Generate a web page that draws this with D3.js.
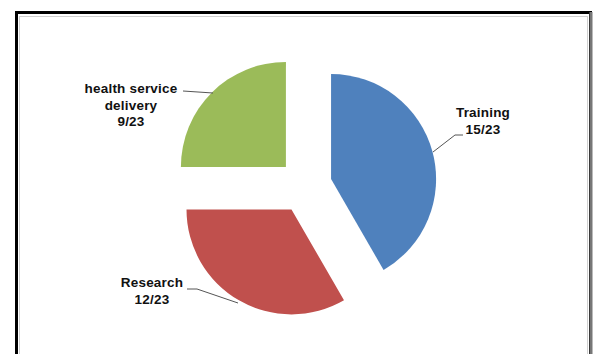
<!DOCTYPE html>
<meta charset="utf-8">
<style>
body { margin: 0; background: #fff; }
svg { font: bold 13.5px "Liberation Sans", Arial, sans-serif; }
.lbl { fill: #111; text-anchor: middle; letter-spacing: 0.2px; }
.lead { stroke: #555; stroke-width: 1; fill: none; }
</style>
<body>
<div id="chart"></div>
<script src="https://cdn.jsdelivr.net/npm/d3@7"></script>
<script>

// slices in clockwise order from 12 o'clock
var categories = ["Training", "Research", "health service delivery"];
var counts = [15, 12, 9];
var fractions = ["15/23", "12/23", "9/23"];
var colors = ["#4f81bd", "#c0504d", "#9bbb59"];

var width = 593, height = 354;
var cx = 305, cy = 186, r = 105, explode = 27;

var svg = d3.select("#chart").append("svg")
    .attr("width", width)
    .attr("height", height);

// frame
svg.append("rect").attr("x", 16.5).attr("y", 12.5).attr("width", 574).attr("height", 360)
    .attr("fill", "#fff").attr("stroke", "#000").attr("stroke-width", 3);
svg.append("line").attr("x1", 591).attr("x2", 591).attr("y1", 12).attr("y2", 354)
    .attr("stroke", "#777").attr("stroke-width", 3);
svg.append("rect").attr("x", 19.5).attr("y", 16.5).attr("width", 568).attr("height", 350)
    .attr("fill", "none").attr("stroke", "#d0d0d0").attr("stroke-width", 1);

var data = categories.map(function(c, i) {
  return {name: c, value: counts[i], frac: fractions[i], color: colors[i]};
});

var pie = d3.pie().sort(null).value(function(d) { return d.value; });
var arc = d3.arc().innerRadius(0).outerRadius(r);

var slices = svg.append("g")
    .attr("transform", "translate(" + cx + "," + cy + ")")
  .selectAll("path")
    .data(pie(data))
  .enter().append("path")
    .attr("fill", function(d) { return d.data.color; })
    .attr("transform", function(d) {
      var a = (d.startAngle + d.endAngle) / 2;
      return "translate(" + (explode * Math.sin(a)) + "," + (-explode * Math.cos(a)) + ")";
    })
    .attr("d", arc);

// labels: position and leader path for each slice
var labelPos = [[483, 113], [152, 283], [131, 89]];
var leaders = [
  [[463, 135], [455, 135], [433, 152]],
  [[187, 289], [197, 289], [238, 303]],
  [[183, 91], [213, 93]]
];

var lab = svg.append("g");
data.forEach(function(d, i) {
  var lines = d.name === "health service delivery" ? ["health service", "delivery", d.frac] : [d.name, d.frac];
  var t = lab.append("text").attr("class", "lbl")
      .attr("x", labelPos[i][0]).attr("y", labelPos[i][1] + 4);
  lines.forEach(function(s, k) {
    t.append("tspan").attr("x", labelPos[i][0]).attr("dy", k ? 16.5 : 0).text(s);
  });
  lab.append("path").attr("class", "lead").attr("d", d3.line()(leaders[i]));
});

</script>
</body>
